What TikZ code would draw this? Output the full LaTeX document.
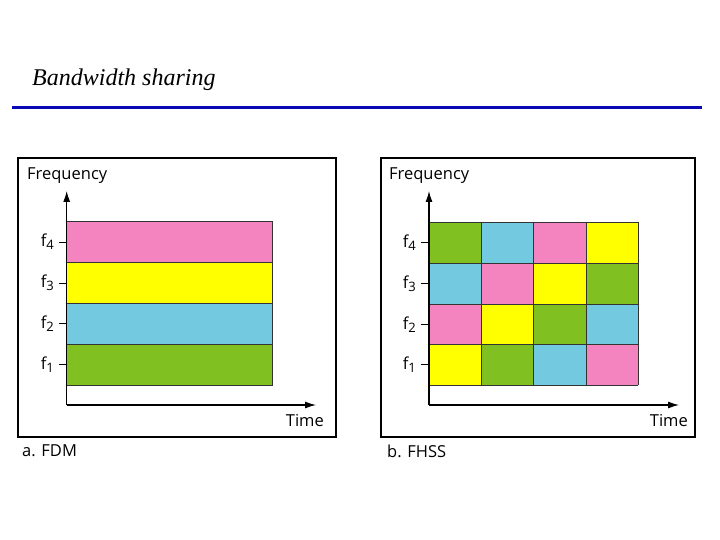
\documentclass[tikz,border=0pt]{standalone}
\usepackage{fontspec}
\setmainfont{Liberation Serif}
\newfontfamily\lblfont{Open Sans}
\usetikzlibrary{arrows.meta}
\definecolor{cpink}{RGB}{244,132,191}
\definecolor{cyel}{RGB}{255,255,0}
\definecolor{cblue}{RGB}{114,201,224}
\definecolor{cgreen}{RGB}{128,192,32}
\definecolor{rule}{RGB}{10,10,180}
\newcommand{\fsub}[1]{f\raisebox{-0.35ex}{\fontsize{13}{14}\selectfont #1}}
\begin{document}
\begin{tikzpicture}[x=1pt,y=-1pt,
  frame/.style={draw=black,line width=1.3pt},
  axis/.style={line width=1.1pt,-{Latex[length=11pt,width=7pt]}},
  cell/.style={draw=black!80,line width=0.8pt},
  lbl/.style={font=\lblfont\fontsize{16.5}{18}\selectfont,inner sep=0pt},
  tick/.style={line width=0.8pt}]
\useasboundingbox (0,0) rectangle (720,540);
% title
\node[anchor=base west,inner sep=0pt,font=\itshape\fontsize{24}{28}\selectfont] (title) at (32,86) {Bandwidth sharing};
\draw[rule,line width=3pt] (12,107.5) -- (702,107.5);

% ---------- left panel (FDM)
\draw[frame] (18,158) rectangle (336,437);
\fill[cpink] (66.7,221.5) rectangle (272.7,262.5);
\fill[cyel] (66.7,262.5) rectangle (272.7,303);
\fill[cblue] (66.7,303) rectangle (272.7,344);
\fill[cgreen] (66.7,344) rectangle (272.7,385);
\foreach \y in {221.5,262.5,303,344,385} \draw[cell] (66.7,\y) -- (272.7,\y);
\draw[cell] (272.7,221.5) -- (272.7,385);
\coordinate (Lo) at (66.7,405);
\coordinate (Ly) at (66.7,191);
\coordinate (Lx) at (316,405);
\draw[axis] (Lo) -- (Ly);
\draw[axis] (Lo) -- (Lx);
\node[lbl,anchor=west] (Lfreq) at (27,176) {Frequency};
\node[lbl,anchor=east] (Ltime) at (324,421) {Time};
\node[lbl,anchor=west] (Lcap) at (22,451) {a. FDM};
\foreach \y/\n in {242/4,283/3,323.5/2,364.5/1}{
  \draw[tick] (59,\y) -- (66.7,\y);
  \node[lbl,anchor=east] (Lf\n) at (54,\y) {\fsub{\n}};
}

% ---------- right panel (FHSS)
\draw[frame] (381,158) rectangle (695,437);
\def\cx{{429,481.3,533.6,585.9,638.3}}
\def\ry{{222.3,263.3,304,344.7,385}}
\foreach \r/\cols in {0/{cgreen,cblue,cpink,cyel},1/{cblue,cpink,cyel,cgreen},2/{cpink,cyel,cgreen,cblue},3/{cyel,cgreen,cblue,cpink}}{
  \foreach \c [count=\i from 0] in \cols {
    \pgfmathsetmacro\xa{\cx[\i]}
    \pgfmathsetmacro\xb{\cx[\i+1]}
    \pgfmathsetmacro\ya{\ry[\r]}
    \pgfmathsetmacro\yb{\ry[\r+1]}
    \fill[\c] (\xa,\ya) rectangle (\xb,\yb);
  }
}
\foreach \y in {222.3,263.3,304,344.7,385} \draw[cell] (429,\y) -- (638.3,\y);
\foreach \x in {429,481.3,533.6,585.9,638.3} \draw[cell] (\x,222.3) -- (\x,385);
\coordinate (Ro) at (429,405);
\coordinate (Ry) at (429,191);
\coordinate (Rx) at (679,405);
\draw[axis] (Ro) -- (Ry);
\draw[axis] (Ro) -- (Rx);
\node[lbl,anchor=west] (Rfreq) at (389,176) {Frequency};
\node[lbl,anchor=east] (Rtime) at (688,421) {Time};
\node[lbl,anchor=west] (Rcap) at (387,451) {b. FHSS};
\foreach \y/\n in {242.8/4,283.6/3,324.3/2,364.8/1}{
  \draw[tick] (421,\y) -- (429,\y);
  \node[lbl,anchor=east] (Rf\n) at (416,\y) {\fsub{\n}};
}
\end{tikzpicture}
\end{document}
